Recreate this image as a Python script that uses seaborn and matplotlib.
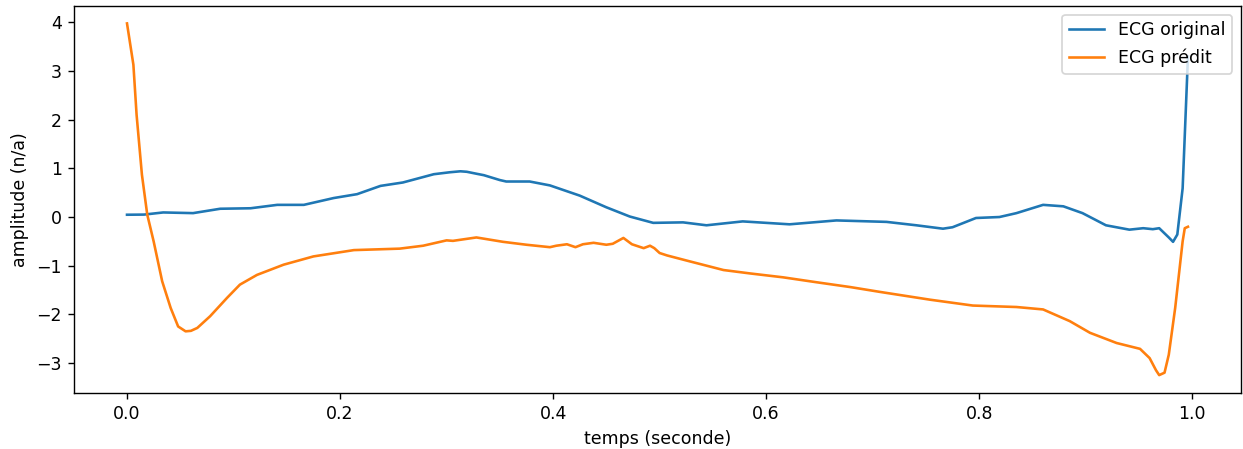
import matplotlib
matplotlib.use("Agg")
import matplotlib.pyplot as plt
import seaborn as sns
import numpy as np

# ECG original (blue)
t_orig = [0.000, 0.016, 0.034, 0.062, 0.0875, 0.116, 0.141, 0.166, 0.194, 0.216,
          0.238, 0.259, 0.288, 0.303, 0.313, 0.319, 0.328, 0.335, 0.350, 0.356,
          0.378, 0.397, 0.425, 0.450, 0.472, 0.494, 0.522, 0.544, 0.578, 0.622,
          0.666, 0.713, 0.741, 0.766, 0.775, 0.797, 0.819, 0.835, 0.860, 0.879,
          0.897, 0.919, 0.941, 0.954, 0.963, 0.969, 0.978, 0.982, 0.986, 0.991,
          0.996]
v_orig = [0.047, 0.05, 0.094, 0.08, 0.17, 0.18, 0.25, 0.25, 0.39, 0.47,
          0.64, 0.71, 0.88, 0.92, 0.94, 0.93, 0.89, 0.86, 0.76, 0.73,
          0.73, 0.65, 0.44, 0.20, 0.01, -0.12, -0.11, -0.17, -0.09, -0.15,
          -0.07, -0.10, -0.17, -0.24, -0.21, -0.02, 0.00, 0.08, 0.25, 0.22,
          0.08, -0.17, -0.26, -0.23, -0.25, -0.23, -0.42, -0.51, -0.36, 0.59,
          3.30]

# ECG predit (orange)
t_pred = [0.000, 0.006, 0.009, 0.014, 0.019, 0.025, 0.033, 0.041, 0.048, 0.055,
          0.060, 0.066, 0.078, 0.094, 0.106, 0.122, 0.147, 0.175, 0.213, 0.256,
          0.278, 0.300, 0.306, 0.328, 0.353, 0.375, 0.397, 0.403, 0.413, 0.421,
          0.428, 0.438, 0.450, 0.456, 0.466, 0.474, 0.485, 0.491, 0.495, 0.500,
          0.507, 0.528, 0.560, 0.585, 0.616, 0.647, 0.679, 0.707, 0.754, 0.794,
          0.835, 0.860, 0.885, 0.904, 0.929, 0.951, 0.960, 0.966, 0.969, 0.974,
          0.978, 0.984, 0.991, 0.993, 0.996]
v_pred = [3.98, 3.13, 2.10, 0.87, 0.05, -0.50, -1.32, -1.87, -2.25, -2.35,
          -2.34, -2.28, -2.04, -1.66, -1.39, -1.19, -0.98, -0.81, -0.68, -0.65,
          -0.59, -0.48, -0.49, -0.42, -0.51, -0.57, -0.62, -0.59, -0.56, -0.62,
          -0.56, -0.53, -0.57, -0.55, -0.43, -0.56, -0.64, -0.59, -0.64, -0.74,
          -0.79, -0.91, -1.09, -1.16, -1.24, -1.34, -1.44, -1.54, -1.70, -1.82,
          -1.85, -1.90, -2.14, -2.38, -2.59, -2.71, -2.90, -3.15, -3.25, -3.20,
          -2.83, -1.87, -0.50, -0.23, -0.20]

labels = ["ECG original", "ECG prédit"]
colors = ["#1f77b4", "#ff7f0e"]

DPI = 125
fig, ax = plt.subplots(figsize=(1243 / DPI, 449 / DPI), dpi=DPI)
fig.subplots_adjust(left=0.0595, right=0.9984, top=0.987, bottom=0.1254)

sns.lineplot(x=t_orig, y=v_orig, ax=ax, color=colors[0], label=labels[0], linewidth=1.5)
sns.lineplot(x=t_pred, y=v_pred, ax=ax, color=colors[1], label=labels[1], linewidth=1.5)

ax.set_xlabel("temps (seconde)")
ax.set_ylabel("amplitude (n/a)")
ax.legend(loc="upper right")

fig.savefig("out.png", dpi=DPI)
